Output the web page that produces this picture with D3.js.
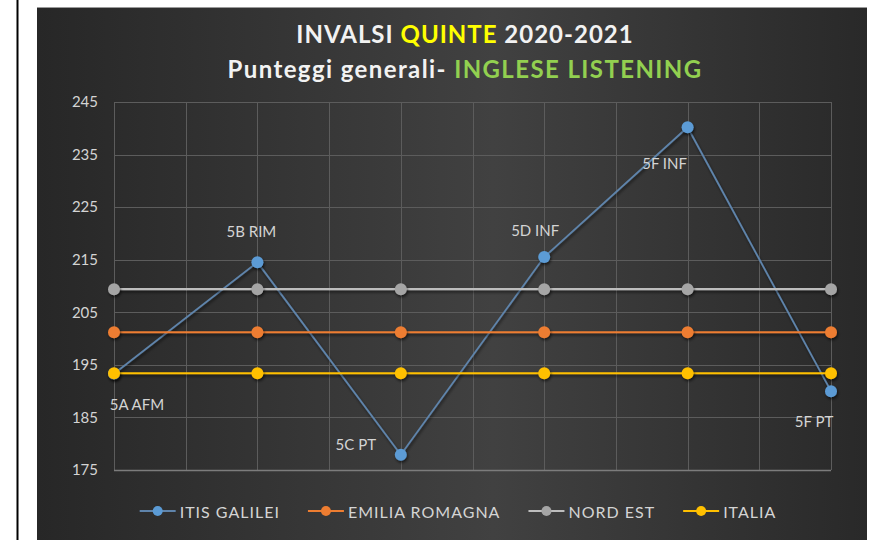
<!DOCTYPE html>
<html>
<head>
<meta charset="utf-8">
<script src="https://cdn.jsdelivr.net/npm/d3@7"></script>
<style>
  html, body { margin: 0; padding: 0; background: #fff; }
  svg { display: block; font-family: Lato, "Open Sans", sans-serif; }
</style>
</head>
<body>
<svg id="chart" width="876" height="540"></svg>
<script>
// categories (classi) and series
const categories = ["5A AFM", "5B RIM", "5C PT", "5D INF", "5F INF", "5F PT"];
const itisGalilei = [193.3, 214.5, 177.9, 215.5, 240.2, 190.0];
const emiliaRomagna = [201.2, 201.2, 201.2, 201.2, 201.2, 201.2];
const nordEst = [209.4, 209.4, 209.4, 209.4, 209.4, 209.4];
const italia = [193.4, 193.4, 193.4, 193.4, 193.4, 193.4];
const yTicks = [175, 185, 195, 205, 215, 225, 235, 245];
const seriesNames = ["ITIS GALILEI", "EMILIA ROMAGNA", "NORD EST", "ITALIA"];

const colors = ["#5B9BD5", "#ED7D31", "#A5A5A5", "#FFC000"];
const lineColors = ["#5f84ab", "#ED7D31", "#BDBDBD", "#FFC000"];

const svg = d3.select("#chart");

// sfondo
svg.append("line").attr("x1", 17.5).attr("x2", 17.5).attr("y1", 0).attr("y2", 540)
  .attr("stroke", "#000").attr("stroke-width", 2);

const defs = svg.append("defs");
const grad = defs.append("linearGradient").attr("id", "bg").attr("x1", "0").attr("x2", "1").attr("y1", "0").attr("y2", "0");
grad.append("stop").attr("offset", "0%").attr("stop-color", "#272727");
grad.append("stop").attr("offset", "55%").attr("stop-color", "#414141");
grad.append("stop").attr("offset", "100%").attr("stop-color", "#292929");

// ombra (userSpaceOnUse, altrimenti le linee orizzontali spariscono)
const shadow = defs.append("filter").attr("id", "sh").attr("filterUnits", "userSpaceOnUse")
  .attr("x", 0).attr("y", 0).attr("width", 876).attr("height", 540);
shadow.append("feDropShadow").attr("dx", 1).attr("dy", 2).attr("stdDeviation", 1.5)
  .attr("flood-color", "#000").attr("flood-opacity", 0.6);

svg.append("rect").attr("x", 37).attr("y", 7).attr("width", 830).attr("height", 540)
  .attr("fill", "url(#bg)");
svg.append("line").attr("x1", 37).attr("x2", 867).attr("y1", 7.5).attr("y2", 7.5)
  .attr("stroke", "#9a9a9a");

// scale
const x = d3.scalePoint().domain(categories).range([114, 831]);
const xGrid = d3.scaleLinear().domain([0, categories.length - 1]).range([114, 831]);
const y = d3.scaleLinear().domain([175, 245]).range([470, 102]);

// griglia
svg.append("g").selectAll("line").data(d3.range(0, categories.length - 0.99, 0.5)).join("line")
  .attr("x1", d => Math.round(xGrid(d)) + 0.5).attr("x2", d => Math.round(xGrid(d)) + 0.5)
  .attr("y1", y(245)).attr("y2", y(175))
  .attr("stroke", "#5c5c5c").attr("stroke-width", 1);

svg.append("g").selectAll("line").data(yTicks).join("line")
  .attr("x1", 114).attr("x2", 831)
  .attr("y1", d => Math.round(y(d)) + 0.5).attr("y2", d => Math.round(y(d)) + 0.5)
  .attr("stroke", d => d === 175 ? "#7c7c7c" : "#5c5c5c").attr("stroke-width", d => d === 175 ? 1.5 : 1);

// asse y
const yAxis = svg.append("g").attr("transform", "translate(114,0)")
  .call(d3.axisLeft(y).tickValues(yTicks).tickSize(0).tickPadding(16));
yAxis.select(".domain").remove();
yAxis.selectAll("text").attr("fill", "#d4d4d4").style("font-size", "15px").style("font-family", "Lato, sans-serif");

// titolo
const title = svg.append("text").attr("x", 465).attr("y", 43).attr("text-anchor", "middle")
  .style("font-size", "24px").style("font-weight", "bold").style("letter-spacing", "1px").attr("fill", "#f2f2f2");
title.append("tspan").text("INVALSI ");
title.append("tspan").attr("fill", "#FFFF00").text("QUINTE");
title.append("tspan").text(" 2020-2021");

const sub = svg.append("text").attr("x", 465).attr("y", 78).attr("text-anchor", "middle")
  .style("font-size", "24px").style("font-weight", "bold").style("letter-spacing", "1.4px").attr("fill", "#f2f2f2");
sub.append("tspan").text("Punteggi generali- ");
sub.append("tspan").attr("fill", "#92D050").text("INGLESE LISTENING");

// serie
const allSeries = [itisGalilei, emiliaRomagna, nordEst, italia];
const line = d3.line().x((d, i) => x(categories[i])).y(d => y(d));

allSeries.forEach((vals, s) => {
  const g = svg.append("g");
  g.append("path").datum(vals).attr("d", line).attr("fill", "none")
    .attr("stroke", lineColors[s]).attr("stroke-width", s === 0 ? 1.8 : 2.2)
    .attr("filter", "url(#sh)");
  g.selectAll("circle").data(vals).join("circle")
    .attr("cx", (d, i) => x(categories[i])).attr("cy", d => y(d)).attr("r", 6)
    .attr("fill", colors[s]).attr("filter", "url(#sh)");
});

// etichette dati (ITIS GALILEI)
const labelOffsets = [[23, 30], [-6, -31], [-45, -11], [-9, -27], [-23, 36], [-17, 30]];
svg.append("g").selectAll("text").data(itisGalilei).join("text")
  .attr("x", (d, i) => x(categories[i]) + labelOffsets[i][0])
  .attr("y", (d, i) => y(d) + labelOffsets[i][1])
  .attr("text-anchor", "middle").attr("dominant-baseline", "central")
  .attr("fill", "#d4d4d4").style("font-size", "15px")
  .text((d, i) => categories[i]);

// legenda
const legend = svg.append("g");
let lx = 0;
seriesNames.forEach((name, s) => {
  const it = legend.append("g").attr("transform", `translate(${lx},0)`);
  it.append("line").attr("x1", 0).attr("x2", 36).attr("y1", 0).attr("y2", 0)
    .attr("stroke", lineColors[s]).attr("stroke-width", 2);
  it.append("circle").attr("cx", 18).attr("cy", 0).attr("r", 5).attr("fill", colors[s]);
  const t = it.append("text").attr("x", 40).attr("y", 0).attr("dominant-baseline", "central")
    .attr("fill", "#d4d4d4").style("font-size", "16px").style("letter-spacing", "1px").text(name);
  lx += 40 + t.node().getComputedTextLength() + 28;
});
const legendWidth = lx - 28;
legend.attr("transform", `translate(${458 - legendWidth / 2},511)`);
</script>
</body>
</html>
